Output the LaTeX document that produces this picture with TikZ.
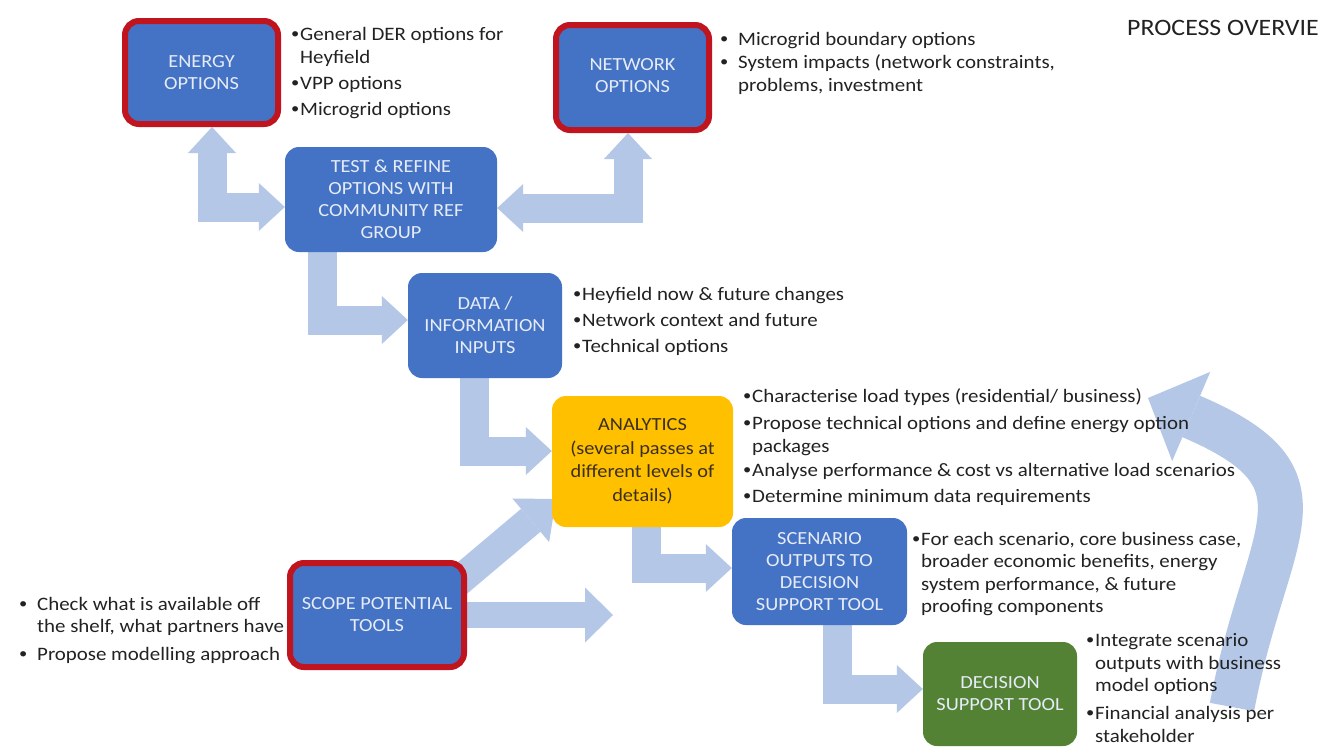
\documentclass[tikz,border=0pt]{standalone}
\usepackage{fontspec}
\setmainfont{Carlito}[FakeStretch=1.1]
\usetikzlibrary{arrows.meta,backgrounds}

\definecolor{boxblue}{HTML}{4472C4}
\definecolor{rimred}{HTML}{C0141E}
\definecolor{amber}{HTML}{FFC000}
\definecolor{leaf}{HTML}{548235}
\definecolor{flow}{HTML}{B4C7E7}
\definecolor{ink}{HTML}{222222}
\definecolor{boxtext}{HTML}{E6ECF7}
\definecolor{amberink}{HTML}{3B2F1E}

\newcommand{\notefont}{\fontsize{19}{23}\selectfont}
\newcommand{\boxfont}{\fontsize{18.5}{22}\selectfont}
% small list bullets with a little gap before the text
\newcommand{\smalldot}{\raisebox{1.3pt}{\fontsize{15}{15}\selectfont\textbullet}}
\newcommand{\bul}{\makebox[9pt][l]{\smalldot}}
\newcommand{\wbul}{\makebox[18pt][l]{\smalldot}}

\begin{document}
\begin{tikzpicture}[x=1pt,y=-1pt,
  box/.style={rounded corners=14pt, fill=boxblue, text=boxtext, align=center,
    font=\boxfont, inner sep=0pt},
  bluebox/.style={box},
  redbox/.style={box, draw=rimred, line width=6pt},
  yellowbox/.style={box, fill=amber, text=amberink},
  greenbox/.style={box, fill=leaf},
  notes/.style={anchor=base west, inner sep=0pt, text=ink, font=\notefont},
  tipL/.tip={Triangle[length=26pt,width=48pt,line width=0pt]},
  flowone/.style={draw=flow, line width=29pt, line join=miter, -tipL},
  flowtwo/.style={draw=flow, line width=29pt, line join=miter, tipL-tipL},
  flowwide/.style={draw=flow, line width=26pt,
    -{Triangle[length=28pt,width=55pt,line width=0pt]}},
  flowdiag/.style={draw=flow, line width=30pt,
    -{Triangle[length=33pt,width=57pt,line width=0pt]}},
  flowback/.style={draw=flow, line width=45pt,
    -{Triangle[length=47pt,width=97pt,line width=0pt]}}
]
\useasboundingbox (0,0) rectangle (1319,753);
\clip (0,0) rectangle (1319,753);

% process boxes
\node[redbox, minimum width=153pt, minimum height=103pt] (energy) at (201.5,72.5) {ENERGY\\OPTIONS};
\node[redbox, minimum width=153pt, minimum height=105pt] (network) at (632.5,77.5) {\raisebox{3pt}{\begin{tabular}{@{}c@{}}NETWORK\\OPTIONS\end{tabular}}};
\node[bluebox, minimum width=212pt, minimum height=105pt] (test) at (391,199.5) {TEST \& REFINE\\OPTIONS WITH\\COMMUNITY REF\\GROUP};
\node[bluebox, minimum width=154pt, minimum height=105pt] (data) at (485,325.5) {DATA /\\INFORMATION\\INPUTS};
\node[yellowbox, minimum width=181pt, minimum height=131pt] (analytics) at (642.5,461.5) {ANALYTICS\\[1.5pt](several passes at\\[1.5pt]different levels of\\[1.5pt]details)};
\node[bluebox, minimum width=175pt, minimum height=107pt] (scenario) at (819.5,571.5) {SCENARIO\\OUTPUTS TO\\DECISION\\SUPPORT TOOL};
\node[greenbox, minimum width=154pt, minimum height=104pt] (decision) at (1000,694) {DECISION\\SUPPORT TOOL};
\node[redbox, minimum width=174pt, minimum height=104pt] (scope) at (377,615) {SCOPE POTENTIAL\\TOOLS};

% free ends of the open arrows
\coordinate (scopeend) at (613,615);
\coordinate (diagtail) at (454,585);
\coordinate (diagtip) at (556,499);
\coordinate (fbstart) at (1232,707);
\coordinate (fbtip) at (1148,398);

% title
\node[anchor=base west, inner sep=0pt, text=ink, font=\fontsize{23.5}{28}\selectfont] (title) at (1127,35) {PROCESS OVERVIE};

% notes beside the boxes
\node[notes] (energynotes) at (291,40) {\begin{tabular}[t]{@{}l@{}l@{}}
\bul & General DER options for\\
     & Heyfield\\[3pt]
\bul & VPP options\\[3pt]
\bul & Microgrid options
\end{tabular}};

\node[notes] (networknotes) at (720,45) {\begin{tabular}[t]{@{}l@{}l@{}}
\wbul & Microgrid boundary options\\
\wbul & System impacts (network constraints,\\
      & problems, investment
\end{tabular}};

\node[notes] (datanotes) at (573,300) {\begin{tabular}[t]{@{}l@{}l@{}}
\bul & Heyfield now \& future changes\\[3pt]
\bul & Network context and future\\[3pt]
\bul & Technical options
\end{tabular}};

\node[notes] (analyticsnotes) at (743,402) {\begin{tabular}[t]{@{}l@{}l@{}}
\bul & Characterise load types (residential/ business)\\[4pt]
\bul & Propose technical options and define energy option\\
     & packages\\[1pt]
\bul & Analyse performance \& cost vs alternative load scenarios\\[3pt]
\bul & Determine minimum data requirements
\end{tabular}};

\node[notes] (scenarionotes) at (912,545) {\begin{tabular}[t]{@{}l@{}l@{}}
\bul & For each scenario, core business case,\\[-0.5pt]
     & broader economic benefits, energy\\[-0.5pt]
     & system performance, \& future\\[-0.5pt]
     & proofing components
\end{tabular}};

\node[notes] (decisionnotes) at (1086,646) {\begin{tabular}[t]{@{}l@{}l@{}}
\bul & Integrate scenario\\
     & outputs with business\\[-1pt]
     & model options\\[5pt]
\bul & Financial analysis per\\
     & stakeholder
\end{tabular}};

\node[notes] (scopenotes) at (19,610) {\begin{tabular}[t]{@{}l@{}l@{}}
\wbul & Check what is available off\\[-1pt]
      & the shelf, what partners have\\[5pt]
\wbul & Propose modelling approach
\end{tabular}};

% block arrows behind everything
\begin{scope}[on background layer]
\fill[white] (0,0) rectangle (1319,753);
\draw[flowtwo] ([xshift=10.5pt]energy.south) |- ([yshift=-7.5pt]test.west);
\draw[flowtwo] ([xshift=-4.5pt]network.south) |- ([yshift=-8.5pt]test.east);
\draw[flowone] ([xshift=-68.5pt]test.south) |- ([yshift=5.5pt]data.west);
\draw[flowone] ([xshift=-11pt]data.south) |- ([yshift=10.5pt]analytics.west);
\draw[flowone] ([xshift=3.5pt]analytics.south) |- ([yshift=3.5pt]scenario.west);
\draw[flowone] ([xshift=18pt]scenario.south) |- ([yshift=5pt]decision.west);
\draw[flowwide] (scope.east) -- (scopeend);
\draw[flowdiag] (diagtail) -- (diagtip);
\draw[flowback] (fbstart) .. controls (1265,530) and (1340,480) .. (fbtip);
\end{scope}
\end{tikzpicture}
\end{document}
